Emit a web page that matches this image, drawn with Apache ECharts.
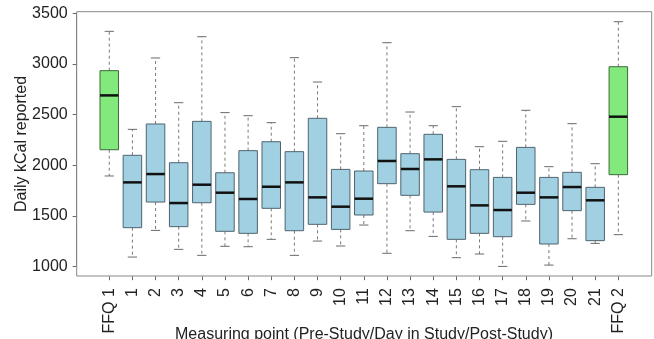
<!DOCTYPE html>
<html>
<head>
<meta charset="utf-8">
<script src="https://cdn.jsdelivr.net/npm/echarts@6/dist/echarts.min.js"></script>
<style>html,body{margin:0;padding:0;background:#fff;}#c{width:654px;height:339px;}</style>
</head>
<body>
<div id="c"></div>
<script>
var categories = ['FFQ 1','1','2','3','4','5','6','7','8','9','10','11','12','13','14','15','16','17','18','19','20','21','FFQ 2'];
var whiskerLow  = [1895,1095,1358,1171,1112,1201,1197,1270,1112,1253,1204,1411,1132,1355,1299,1089,1125,1003,1451,1016,1276,1230,1316];
var q1          = [2154,1385,1638,1395,1631,1349,1329,1576,1355,1418,1368,1510,1819,1704,1539,1270,1329,1296,1615,1224,1553,1257,1908];
var medians     = [2690,1832,1914,1628,1809,1730,1668,1789,1832,1684,1592,1671,2043,1964,2059,1793,1605,1559,1730,1684,1786,1655,2480];
var q3          = [2934,2099,2408,2026,2434,1927,2145,2233,2135,2464,1960,1944,2375,2115,2306,2059,1957,1881,2177,1881,1931,1783,2973];
var whiskerHigh = [3322,2355,3059,2618,3269,2520,2490,2421,3062,2822,2312,2391,3210,2526,2391,2579,2184,2237,2543,1987,2411,2016,3417];
var yTicks = [1000,1500,2000,2500,3000,3500];

var chart = echarts.init(document.getElementById('c'), null, {renderer:'canvas'});
var data = categories.map(function(c,i){ return [i, whiskerLow[i], q1[i], medians[i], q3[i], whiskerHigh[i]]; });
var FONT = 'Liberation Sans, Arial, Helvetica, sans-serif';

function renderItem(params, api){
  var i = api.value(0);
  var pLow = api.coord([i, api.value(1)]);
  var pQ1 = api.coord([i, api.value(2)]);
  var pMed = api.coord([i, api.value(3)]);
  var pQ3 = api.coord([i, api.value(4)]);
  var pHigh = api.coord([i, api.value(5)]);
  var band = api.size([1,0])[0];
  var w = band*0.8;
  var x = pMed[0];
  var isFFQ = /^FFQ/.test(categories[i]);
  var fill = isFFQ ? '#82e97c' : '#a0d0e1';
  var border = isFFQ ? '#3e6a3a' : '#4f6470';
  var dash = {stroke:'#7a7a7a', lineWidth:1, lineDash:[3,3]};
  var cap = {stroke:'#6a6a6a', lineWidth:1};
  return {type:'group', children:[
    {type:'line', shape:{x1:x,y1:pQ3[1],x2:x,y2:pHigh[1]}, style:dash},
    {type:'line', shape:{x1:x,y1:pQ1[1],x2:x,y2:pLow[1]}, style:dash},
    {type:'line', shape:{x1:x-w/4,y1:pHigh[1],x2:x+w/4,y2:pHigh[1]}, style:cap},
    {type:'line', shape:{x1:x-w/4,y1:pLow[1],x2:x+w/4,y2:pLow[1]}, style:cap},
    {type:'rect', shape:{x:x-w/2,y:pQ3[1],width:w,height:pQ1[1]-pQ3[1]}, style:{fill:fill, stroke:border, lineWidth:1}},
    {type:'line', shape:{x1:x-w/2,y1:pMed[1],x2:x+w/2,y2:pMed[1]}, style:{stroke:'#111', lineWidth:2.5}}
  ]};
}

chart.setOption({
  animation:false,
  backgroundColor:'#fff',
  grid:{left:97.7, top:13.3, width:532.2, height:253.4, containLabel:false},
  xAxis:{type:'category', data:categories, boundaryGap:true, offset:9.5,
    axisLine:{show:false},
    axisTick:{show:true, alignWithLabel:true, interval:0, length:4, lineStyle:{color:'#666'}},
    axisLabel:{interval:0, rotate:90, margin:12, fontSize:16, color:'#222', fontFamily:FONT},
    splitLine:{show:false}},
  yAxis:{type:'value', min:1000, max:3500, interval:500, offset:21,
    axisLine:{show:true, lineStyle:{color:'#777'}},
    axisTick:{show:true, length:4, lineStyle:{color:'#666'}},
    axisLabel:{fontSize:16, color:'#222', margin:9, fontFamily:FONT,
      formatter:function(v){ return yTicks.indexOf(v) >= 0 ? String(v) : ''; }},
    splitLine:{show:false}},
  graphic:[
    {type:'rect', shape:{x:76.7, y:11.7, width:575, height:264.3}, style:{fill:'none', stroke:'#888', lineWidth:1}, z:100, silent:true},
    {type:'text', x:21.7, y:144, rotation:Math.PI/2, style:{text:'Daily kCal reported', fontSize:16, fill:'#222', fontFamily:FONT, textAlign:'center', textVerticalAlign:'middle'}},
    {type:'text', x:364, y:335, style:{text:'Measuring point (Pre-Study/Day in Study/Post-Study)', fontSize:16, fill:'#222', fontFamily:FONT, textAlign:'center', textVerticalAlign:'middle'}}
  ],
  series:[{type:'custom', renderItem:renderItem, data:data, encode:{x:0, y:[1,2,3,4,5]}, clip:false}]
});
</script>
</body>
</html>
